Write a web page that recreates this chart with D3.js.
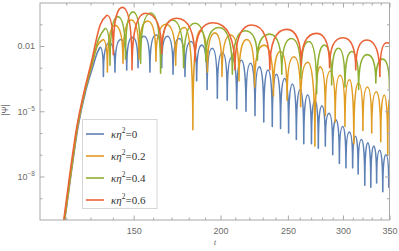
<!DOCTYPE html>
<html>
<head>
<meta charset="utf-8">
<script src="https://cdn.jsdelivr.net/npm/d3@7"></script>
<style>
  body { margin: 0; background: #fff; }
  text { font-family: "Liberation Sans", Arial, sans-serif; }
</style>
</head>
<body>
<svg width="399" height="251"></svg>
<script>
// ticks
const xMajor = [150, 200, 250, 300, 350];
const xMinor = [120, 130, 140, 160, 170, 180, 190, 210, 220, 230, 240, 260, 270, 280, 290, 310, 320, 330, 340];
const yMajor = [1e-8, 1e-5, 1e-2];
const yMajorLabels = [["10", "\u22128"], ["10", "\u22125"], ["0.01", ""]];
const yMinor = [1e-9, 1e-7, 1e-6, 1e-4, 1e-3, 1e-1];

const labels = ["0", "0.2", "0.4", "0.6"];
const colors = ["#5e81b5", "#e19c24", "#8fb032", "#eb6235"];

// [t, |Psi|] : steep initial rise
const riseBlue = [[119.4, 1e-10], [122, 1.5e-8], [124.8, 2e-6], [127.9, 8e-5], [130.9, 1e-3], [133, 5e-3], [134.2, 8.9e-3]];
const riseOrange = [[119.3, 1e-10], [121.9, 1.5e-8], [124.6, 2e-6], [127.6, 8e-5], [130.5, 1.2e-3], [133, 1e-2], [135.5, 2e-2]];
const riseGreen = [[119.2, 1e-10], [121.8, 1.5e-8], [124.5, 2e-6], [127.5, 8e-5], [130.6, 1.5e-3], [133.5, 2e-2], [136.5, 6.5e-2]];
const riseRed = [[119.0, 1e-10], [121.5, 1.5e-8], [124.3, 2e-6], [127.3, 8e-5], [130.5, 2e-3], [134.2, 9e-2], [137.3, 0.26]];

// [t, |Psi|] : ringing, alternating peak / dip
const ringBlue = [[134.2, 8.9e-3], [135.7, 4e-4], [138.4, 1.4e-2], [141, 6.3e-4], [143.8, 2e-2], [146.6, 7.9e-4], [149.4, 2.5e-2],
  [152.2, 1e-3], [155.2, 2.8e-2], [158.3, 6.3e-4], [161.5, 3.2e-2], [164.6, 1e-3], [167.8, 2.8e-2], [170.9, 5e-4], [174.3, 2.2e-2],
  [177.8, 4e-4], [181.3, 1.6e-2], [184.8, 2.5e-4], [188, 1.1e-2], [191.3, 1e-4], [194.6, 7.9e-3], [197.9, 4e-5], [201.2, 5e-3],
  [204.5, 3.2e-5], [207.8, 3.2e-3], [211, 1.3e-5], [214.3, 2.2e-3], [217.6, 1e-5], [220.9, 1.6e-3], [224.2, 6.3e-6], [227.5, 1.1e-3],
  [230.8, 3.2e-6], [234.1, 7.9e-4], [237.4, 2e-6], [240.7, 5e-4], [244, 1.6e-6], [247.3, 3.2e-4], [250.6, 1e-6], [253.8, 1.8e-4],
  [257.1, 5e-7], [260.3, 1e-4], [263.5, 3.2e-7], [266.9, 5.6e-5], [270.3, 3.2e-7], [273.4, 3.2e-5], [276.5, 2e-7], [279.8, 1.8e-5],
  [283, 2.5e-7], [286.5, 8e-6], [290, 1e-7], [293.2, 4e-6], [296.5, 4e-8], [299.8, 2e-6], [303, 2.5e-8], [306.4, 1.1e-6], [309.8, 2.5e-8],
  [312.6, 7.1e-7], [315.5, 1.3e-8], [319, 5e-7], [322.5, 4e-9], [325.8, 3.5e-7], [329, 3.2e-9], [332.2, 2.5e-7], [335.4, 5e-9],
  [338.8, 1.6e-7], [342.3, 2e-9], [345.8, 1e-7], [349.2, 3.2e-9], [350, 3.2e-8]];
const ringOrange = [[135.5, 2e-2], [137.5, 6.3e-4], [141, 8.9e-2], [144.8, 1.6e-3], [148.8, 0.158], [152.7, 2.5e-3], [157.1, 0.141],
  [161.5, 2e-3], [167, 0.1], [172.4, 1.3e-3], [177.5, 7.1e-2], [182.5, 1.4e-6], [187, 5e-2], [191.5, 6.3e-4], [196.3, 4e-2], [201, 4e-4],
  [206.8, 3.2e-2], [212.6, 2.5e-4], [218.2, 2e-2], [223.9, 1.3e-4], [231, 1.1e-2], [238.3, 5e-5], [243.8, 5.6e-3], [249.3, 3.2e-5],
  [255, 3.2e-3], [260.8, 1.6e-5], [267, 1.8e-3], [273.4, 2.5e-7], [278.2, 1.1e-3], [283, 6.3e-6], [287.7, 7.1e-4], [292.4, 3.2e-6],
  [297.2, 4.5e-4], [302, 2e-6], [306.5, 2.8e-4], [311, 3.2e-7], [315.7, 2e-4], [320.5, 1.3e-6], [325.2, 1.3e-4], [330, 1e-6],
  [335, 7.9e-5], [340, 4e-7], [344, 5.6e-5], [348, 1e-7], [350, 4e-5]];
const ringGreen = [[136.5, 6.5e-2], [138.7, 1.3e-3], [142.3, 0.224], [146, 2.5e-3], [149.7, 0.37], [153.5, 1.6e-3], [158.7, 0.33],
  [164, 5.6e-4], [170.5, 0.158], [177, 1e-3], [183.7, 0.112], [190.5, 2e-3], [199, 7.1e-2], [208, 5e-4], [217, 5e-2], [226, 2.2e-3],
  [235.5, 3.5e-2], [245, 5e-4], [253, 2.2e-2], [261, 3.2e-4], [268, 1.6e-2], [275, 6.3e-5], [282, 1.1e-2], [289, 1.6e-4], [295.5, 7.9e-3],
  [302, 1.3e-4], [309, 5.6e-3], [316, 1e-4], [325, 4e-3], [334.5, 2e-4], [342, 2.5e-3], [350, 1e-4]];
const ringRed = [[137.3, 0.26], [140.2, 4e-3], [144.5, 0.6], [149.2, 8e-4], [156, 0.32], [164.6, 4.5e-3], [173, 0.19], [183.8, 2e-3],
  [195, 0.117], [209.8, 8e-4], [221.7, 9.2e-2], [235.5, 8e-4], [249, 5.8e-2], [261.3, 1.2e-3], [275, 3.8e-2], [287, 1e-3], [300, 2.4e-2],
  [313, 8e-4], [324.5, 1.9e-2], [339, 4e-4], [346.7, 1.4e-2], [350, 1.2e-2]];

const rises = [riseBlue, riseOrange, riseGreen, riseRed];
const rings = [ringBlue, ringOrange, ringGreen, ringRed];

const svg = d3.select("svg");
const mLeft = 40, mRight = 389.5, mTop = 3, mBottom = 220;

const x = d3.scaleLog().domain([110, 350]).range([mLeft, mRight]);
const y = d3.scaleLog().domain([1e-10, 1]).range([mBottom, 2.5]);

const frameColor = "#a8a8a8";
const labelColor = "#6b6b6b";

svg.append("defs").append("clipPath").attr("id", "plot")
  .append("rect").attr("x", mLeft).attr("y", mTop).attr("width", mRight - mLeft).attr("height", mBottom - mTop);

// lobe curve: flat at peaks, vertical into the dips
function lobeCurve(context) {
  let prev = null;
  return {
    areaStart() {}, areaEnd() {},
    lineStart() { prev = null; },
    lineEnd() {},
    point(px, py) {
      if (!prev) {
        context.moveTo(px, py);
      } else {
        const [x0, y0] = prev;
        if (py > y0) {
          context.bezierCurveTo(x0 + (px - x0) * 0.5, y0, px, y0 + (py - y0) * 0.2, px, py);
        } else {
          context.bezierCurveTo(x0, py + (y0 - py) * 0.2, px - (px - x0) * 0.5, py, px, py);
        }
      }
      prev = [px, py];
    }
  };
}

const riseLine = d3.line().x(d => x(d[0])).y(d => y(d[1])).curve(d3.curveMonotoneX);
const ringLine = d3.line().x(d => x(d[0])).y(d => y(d[1])).curve(lobeCurve);

const g = svg.append("g").attr("clip-path", "url(#plot)");
rises.forEach((r, i) => {
  g.append("path").attr("d", riseLine(r)).attr("fill", "none")
    .attr("stroke", colors[i]).attr("stroke-width", 1.6);
  g.append("path").attr("d", ringLine(rings[i])).attr("fill", "none")
    .attr("stroke", colors[i]).attr("stroke-width", 1.6).attr("stroke-linejoin", "round");
});

// frame
svg.append("rect").attr("x", mLeft).attr("y", mTop).attr("width", mRight - mLeft).attr("height", mBottom - mTop)
  .attr("fill", "none").attr("stroke", frameColor).attr("stroke-width", 1);

function styleAxis(sel) {
  sel.select(".domain").remove();
  sel.selectAll(".tick line").attr("stroke", frameColor);
  sel.selectAll(".tick text").attr("fill", labelColor).attr("font-size", 9);
}

// x axes (bottom, top)
svg.append("g").attr("transform", `translate(0,${mBottom})`)
  .call(d3.axisBottom(x).tickValues(xMajor).tickSize(-4.5).tickPadding(8).tickFormat(d3.format("d")))
  .call(styleAxis);
svg.append("g").attr("transform", `translate(0,${mBottom})`)
  .call(d3.axisBottom(x).tickValues(xMinor).tickSize(-2.5).tickFormat(""))
  .call(styleAxis);
svg.append("g").attr("transform", `translate(0,${mTop})`)
  .call(d3.axisTop(x).tickValues(xMajor).tickSize(-4.5).tickFormat(""))
  .call(styleAxis);
svg.append("g").attr("transform", `translate(0,${mTop})`)
  .call(d3.axisTop(x).tickValues(xMinor).tickSize(-2.5).tickFormat(""))
  .call(styleAxis);

// y axes (left, right)
const yl = svg.append("g").attr("transform", `translate(${mLeft},0)`)
  .call(d3.axisLeft(y).tickValues(yMajor).tickSize(-4.5).tickPadding(5).tickFormat(""))
  .call(styleAxis);
yl.selectAll(".tick text").each(function(d, i) {
  const t = d3.select(this);
  t.text(yMajorLabels[i][0]).attr("font-size", 9);
  if (yMajorLabels[i][1]) {
    t.append("tspan").attr("dy", -4).attr("font-size", 6.5).text(yMajorLabels[i][1]);
  }
});
svg.append("g").attr("transform", `translate(${mLeft},0)`)
  .call(d3.axisLeft(y).tickValues(yMinor).tickSize(-2.5).tickFormat(""))
  .call(styleAxis);
svg.append("g").attr("transform", `translate(${mRight},0)`)
  .call(d3.axisRight(y).tickValues(yMajor).tickSize(-4.5).tickFormat(""))
  .call(styleAxis);
svg.append("g").attr("transform", `translate(${mRight},0)`)
  .call(d3.axisRight(y).tickValues(yMinor).tickSize(-2.5).tickFormat(""))
  .call(styleAxis);

// axis labels
svg.append("text").attr("x", 215).attr("y", 245).attr("text-anchor", "middle")
  .attr("font-size", 9).attr("font-style", "italic").attr("fill", labelColor)
  .style("font-family", "Liberation Serif, serif").text("t");
svg.append("text").attr("transform", "translate(8,110) rotate(-90)").attr("text-anchor", "middle")
  .attr("font-size", 8.5).attr("fill", labelColor).text("|\u03a8|");

// legend
const lg = svg.append("g");
lg.append("rect").attr("x", 82.5).attr("y", 119.5).attr("width", 74.5).attr("height", 89)
  .attr("fill", "#fff").attr("stroke", "#d6d6d6").attr("stroke-width", 1);
labels.forEach((lab, i) => {
  const ly = 134 + i * 22;
  lg.append("line").attr("x1", 86).attr("x2", 104).attr("y1", ly).attr("y2", ly)
    .attr("stroke", colors[i]).attr("stroke-width", 1.6);
  const t = lg.append("text").attr("x", 111).attr("y", ly + 3.5)
    .style("font-family", "Liberation Serif, serif").attr("font-size", 11).attr("fill", "#333");
  t.append("tspan").attr("font-style", "italic").text("\u03ba\u03b7");
  t.append("tspan").attr("dy", -4.5).attr("font-size", 7.5).text("2");
  t.append("tspan").attr("dy", 4.5).text("=" + lab);
});
</script>
</body>
</html>
